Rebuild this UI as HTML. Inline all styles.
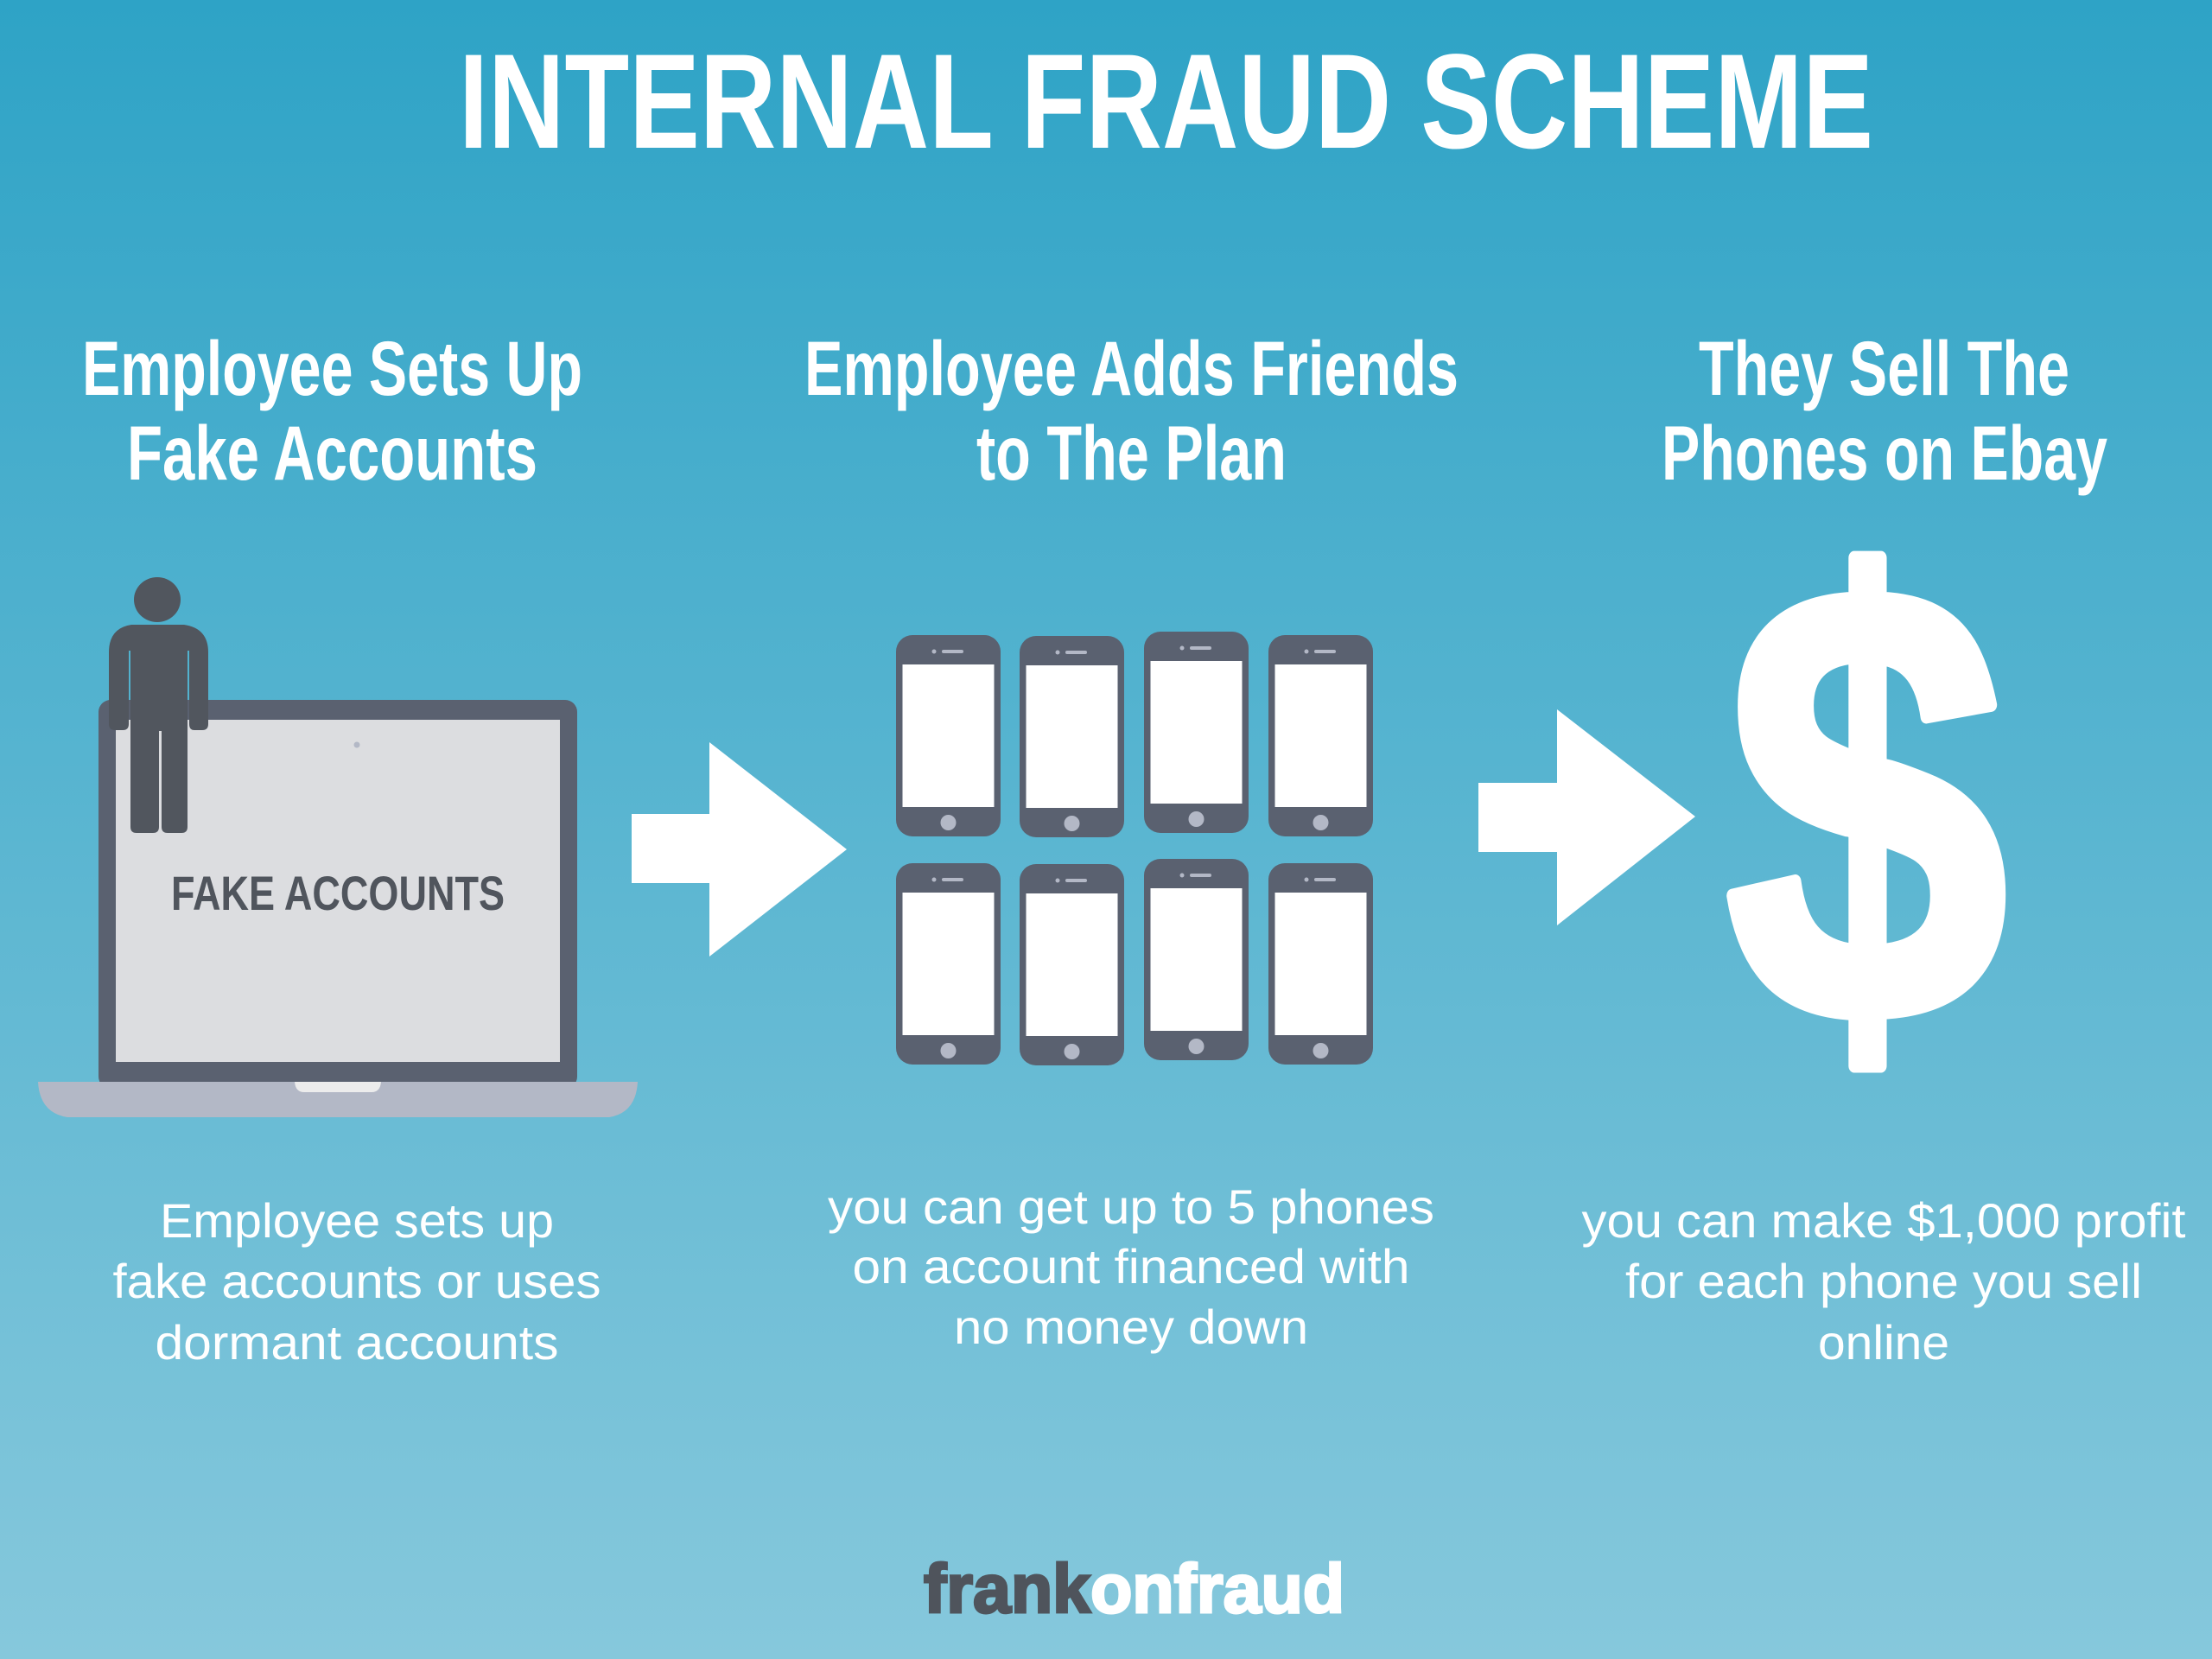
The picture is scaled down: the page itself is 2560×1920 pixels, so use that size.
<!DOCTYPE html>
<html><head><meta charset="utf-8"><style>
html,body{margin:0;padding:0;width:2560px;height:1920px;overflow:hidden}
svg{display:block}
.h{font-family:"Liberation Sans Narrow","Liberation Sans",sans-serif;font-weight:bold;fill:#fff}
.b{font-family:"Liberation Sans",sans-serif;fill:#fff;font-size:56px}
</style></head><body>
<svg width="2560" height="1920" viewBox="0 0 2560 1920" xmlns="http://www.w3.org/2000/svg">
<defs>
<linearGradient id="bg" x1="0" y1="0" x2="0" y2="1">
<stop offset="0" stop-color="#2ea3c6"/><stop offset="1" stop-color="#86c8dc"/>
</linearGradient>
<g id="ph">
<rect x="0" y="0" width="121" height="233" rx="19" fill="#5a6170"/>
<rect x="7.5" y="34" width="106" height="165" fill="#fff"/>
<circle cx="44" cy="19" r="2.5" fill="#b3b8c6"/>
<rect x="53" y="17" width="25" height="4" rx="2" fill="#b3b8c6"/>
<circle cx="60.5" cy="217" r="9" fill="#b3b8c6"/>
</g>
</defs>
<rect width="2560" height="1920" fill="url(#bg)"/>

<text class="h" x="531" y="171" font-size="156" textLength="1637" lengthAdjust="spacingAndGlyphs">INTERNAL FRAUD SCHEME</text>

<text class="h" x="95" y="457" font-size="89" textLength="579" lengthAdjust="spacingAndGlyphs">Employee Sets Up</text>
<text class="h" x="147" y="555" font-size="89" textLength="475" lengthAdjust="spacingAndGlyphs">Fake Accounts</text>
<text class="h" x="931" y="457" font-size="89" textLength="757" lengthAdjust="spacingAndGlyphs">Employee Adds Friends</text>
<text class="h" x="1130" y="555" font-size="89" textLength="359" lengthAdjust="spacingAndGlyphs">to The Plan</text>
<text class="h" x="1966" y="457" font-size="89" textLength="429" lengthAdjust="spacingAndGlyphs">They Sell The</text>
<text class="h" x="1923" y="555" font-size="89" textLength="516" lengthAdjust="spacingAndGlyphs">Phones on Ebay</text>

<!-- laptop -->
<rect x="114" y="810" width="554" height="450" rx="14" fill="#5a6170"/>
<rect x="134" y="833" width="514" height="396" fill="#dcdde0"/>
<circle cx="413" cy="862" r="3.5" fill="#b3b8c6"/>
<path d="M44 1252 H738 Q736 1288 705 1293 H78 Q46 1288 44 1252 Z" fill="#b3b8c6"/>
<path d="M341 1252 H441 Q440 1264 430 1264 H352 Q342 1264 341 1252 Z" fill="#ececec"/>
<text x="198" y="1053" font-family="Liberation Sans,sans-serif" font-weight="bold" font-size="56" fill="#50555d" textLength="386" lengthAdjust="spacingAndGlyphs">FAKE ACCOUNTS</text>
<!-- person -->
<ellipse cx="182" cy="694" rx="27" ry="26" fill="#51565e"/>
<path d="M152 723 H213 Q241 727 241 755 V838 Q241 845 234 845 H225 Q219 845 219 838 V753 H217 V957 Q217 964 210 964 H194 Q187 964 187 957 V846 H184 V957 Q184 964 177 964 H158 Q151 964 151 957 V753 H149 V838 Q149 845 142 845 H133 Q126 845 126 838 V755 Q126 727 152 723 Z" fill="#51565e"/>

<!-- arrow 1 -->
<path d="M731 942 H821 V859 L980 983 L821 1107 V1022 H731 Z" fill="#fff"/>

<!-- phones -->
<use href="#ph" x="1037" y="735"/><use href="#ph" x="1180" y="736"/><use href="#ph" x="1324" y="731"/><use href="#ph" x="1468" y="735"/>
<use href="#ph" x="1037" y="999"/><use href="#ph" x="1180" y="1000"/><use href="#ph" x="1324" y="994"/><use href="#ph" x="1468" y="999"/>

<!-- arrow 2 -->
<path d="M1711 906 H1802 V821 L1962 945 L1802 1071 V986 H1711 Z" fill="#fff"/>

<!-- dollar -->
<text x="2160" y="1180" text-anchor="middle" font-family="Liberation Sans Narrow,Liberation Sans,sans-serif" font-weight="bold" font-size="720" fill="#fff" stroke="#fff" stroke-width="16" stroke-linejoin="round" textLength="326" lengthAdjust="spacingAndGlyphs">$</text>

<!-- body text -->
<text class="b" x="413" y="1432" text-anchor="middle" textLength="456" lengthAdjust="spacingAndGlyphs">Employee sets up</text>
<text class="b" x="413" y="1502" text-anchor="middle" textLength="565" lengthAdjust="spacingAndGlyphs">fake accounts or uses</text>
<text class="b" x="413" y="1573" text-anchor="middle" textLength="467" lengthAdjust="spacingAndGlyphs">dormant accounts</text>

<text class="b" x="1309" y="1416" text-anchor="middle" textLength="702" lengthAdjust="spacingAndGlyphs">you can get up to 5 phones</text>
<text class="b" x="1309" y="1485" text-anchor="middle" textLength="645" lengthAdjust="spacingAndGlyphs">on account financed with</text>
<text class="b" x="1309" y="1555" text-anchor="middle" textLength="410" lengthAdjust="spacingAndGlyphs">no money down</text>

<text class="b" x="2180" y="1432" text-anchor="middle" textLength="699" lengthAdjust="spacingAndGlyphs">you can make $1,000 profit</text>
<text class="b" x="2180" y="1502" text-anchor="middle" textLength="598" lengthAdjust="spacingAndGlyphs">for each phone you sell</text>
<text class="b" x="2180" y="1573" text-anchor="middle" textLength="152" lengthAdjust="spacingAndGlyphs">online</text>

<!-- footer -->
<text x="1069" y="1866" font-family="Liberation Sans,sans-serif" font-weight="bold" font-size="80" stroke-width="3" textLength="487" lengthAdjust="spacingAndGlyphs"><tspan fill="#4f545c" stroke="#4f545c">frank</tspan><tspan fill="#fff" stroke="#fff">onfraud</tspan></text>
</svg>
</body></html>
